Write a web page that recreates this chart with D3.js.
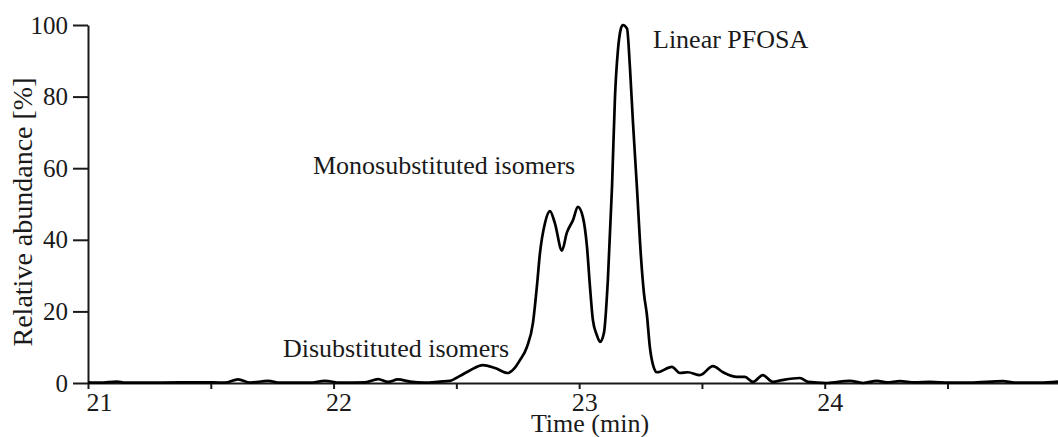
<!DOCTYPE html>
<html>
<head>
<meta charset="utf-8">
<script src="https://cdn.jsdelivr.net/npm/d3@7"></script>
<style>
  html, body { margin: 0; padding: 0; background: #fff; }
  svg { display: block; font-family: "Liberation Serif", "Times New Roman", serif; }
</style>
</head>
<body>
<svg id="chart" width="1058" height="437"></svg>
<script>
// Retention time (min) and relative abundance (%)
const times = [21.0, 21.049, 21.118, 21.151, 21.293, 21.456, 21.558, 21.611, 21.66, 21.733, 21.782, 21.904,
  21.965, 22.026, 22.128, 22.181, 22.222, 22.262, 22.311, 22.372, 22.433, 22.474, 22.515, 22.555,
  22.608, 22.657, 22.71, 22.735, 22.759, 22.787, 22.812, 22.828, 22.84, 22.861, 22.881, 22.901,
  22.93, 22.95, 22.975, 22.995, 23.015, 23.032, 23.044, 23.056, 23.072, 23.085, 23.101, 23.117,
  23.134, 23.146, 23.158, 23.17, 23.178, 23.195, 23.207, 23.219, 23.235, 23.252, 23.264, 23.276,
  23.288, 23.301, 23.317, 23.378, 23.41, 23.443, 23.492, 23.545, 23.586, 23.643, 23.675, 23.708,
  23.748, 23.789, 23.826, 23.899, 23.932, 24.009, 24.103, 24.156, 24.213, 24.253, 24.306, 24.367,
  24.428, 24.51, 24.591, 24.726, 24.774, 24.876, 24.95];
const abundance = [0.2, 0.1, 0.4, 0.1, 0.1, 0.2, 0.1, 1.0, 0.1, 0.6, 0.1, 0.1,
  0.6, 0.1, 0.2, 1.1, 0.3, 1.0, 0.4, 0.1, 0.4, 0.6, 2.0, 3.5,
  5.0, 4.2, 2.8, 4.0, 6.4, 10, 16.8, 27, 36, 44.7, 48, 44.7,
  37, 42, 45.5, 49.2, 46.4, 38, 27, 17.6, 13.4, 11.5, 14, 28.8,
  55, 80, 93, 99, 100, 99, 88, 73, 55, 35, 25, 19,
  10, 5, 3, 4.5, 2.8, 3, 2.2, 4.7, 3, 1.7, 1.7, 0.3,
  2.2, 0.3, 0.8, 1.4, 0.3, 0, 0.6, 0, 0.6, 0.2, 0.5, 0.2,
  0.3, 0.1, 0.1, 0.5, 0.1, 0.1, 0.4];

const xTicks = [21, 21.5, 22, 22.5, 23, 23.5, 24, 24.5];
const yTicks = [0, 20, 40, 60, 80, 100];
const annotationTexts = ["Linear PFOSA", "Monosubstituted isomers", "Disubstituted isomers"];

const svg = d3.select("#chart");
const x = d3.scaleLinear().domain([21, 24.95]).range([88, 1058]);
const y = d3.scaleLinear().domain([0, 100]).range([383, 25]);
const ink = "#1a1a1a";

// Y axis
const gy = svg.append("g").attr("transform", `translate(${x(21)},0)`)
  .call(d3.axisLeft(y).tickValues(yTicks).tickSize(15).tickSizeOuter(0).tickPadding(5));
gy.attr("font-family", "Liberation Serif");
gy.selectAll("path, line").attr("stroke", ink).attr("stroke-width", 2);
gy.selectAll("text").attr("font-size", 25).attr("fill", ink);

// X axis
const gx = svg.append("g").attr("transform", `translate(0,${y(0)})`)
  .call(d3.axisBottom(x).tickValues(xTicks).tickSize(6).tickSizeOuter(0).tickPadding(4)
    .tickFormat(d => Number.isInteger(d) ? d3.format("d")(d) : ""));
gx.attr("font-family", "Liberation Serif");
gx.selectAll("path, line").attr("stroke", ink).attr("stroke-width", 2);
gx.selectAll("text").attr("font-size", 26).attr("fill", ink)
  .attr("dx", (d, i) => i === 0 ? 11 : 5);

// Axis titles
svg.append("text")
  .attr("transform", `translate(32,212) rotate(-90)`)
  .attr("text-anchor", "middle").attr("font-size", 28).attr("fill", ink)
  .text("Relative abundance [%]");
svg.append("text")
  .attr("x", 590).attr("y", 432)
  .attr("text-anchor", "middle").attr("font-size", 26).attr("fill", ink)
  .text("Time (min)");

// Trace
const pts = times.map((t, i) => [t, abundance[i]]);
svg.append("path")
  .datum(pts)
  .attr("fill", "none").attr("stroke", "#000").attr("stroke-width", 2.7)
  .attr("stroke-linejoin", "round")
  .attr("d", d3.line().x(d => x(d[0])).y(d => y(d[1])).curve(d3.curveMonotoneX));

// Annotations
const annPos = [[653, 48], [313, 174], [283, 357]];
svg.selectAll("text.ann").data(annotationTexts).enter().append("text")
  .attr("class", "ann")
  .attr("x", (d, i) => annPos[i][0]).attr("y", (d, i) => annPos[i][1])
  .attr("font-size", 26).attr("fill", ink)
  .text(d => d);
</script>
</body>
</html>
